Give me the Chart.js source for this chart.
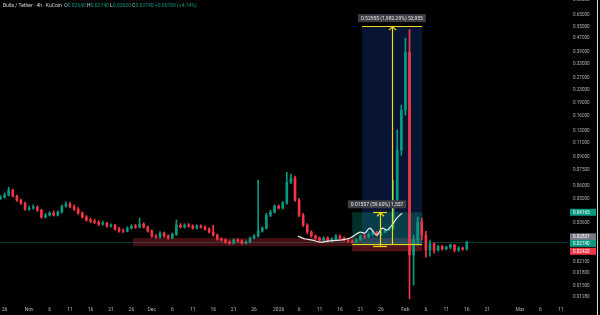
<!DOCTYPE html>
<html>
<head>
<meta charset="utf-8">
<script src="https://cdn.jsdelivr.net/npm/chart.js@4.4.1/dist/chart.umd.min.js"></script>
<style>
  html, body { margin: 0; padding: 0; background: #000; }
  canvas { display: block; }
</style>
</head>
<body>
<canvas id="chart" width="600" height="315"></canvas>
<script>
// Bulla / Tether 4h (KuCoin) - redrawn as daily candles, day 0 = 26 Oct
const firstDay = -1;

const opens = [
  0.0503, 0.0514, 0.0529, 0.0567, 0.0522, 0.0493, 0.0473, 0.0435, 0.0441, 0.0448,
  0.0429, 0.0390, 0.0400, 0.0412, 0.0400, 0.0418, 0.0454, 0.0467, 0.0448, 0.0435,
  0.0412, 0.0390, 0.0374, 0.0368, 0.0363, 0.0353, 0.0358, 0.0344, 0.0348, 0.0330,
  0.0321, 0.0320, 0.0334, 0.0344, 0.0339, 0.0353, 0.0339, 0.0321, 0.0299, 0.0295,
  0.0312, 0.0299, 0.0291, 0.0307, 0.0348, 0.0339, 0.0348, 0.0344, 0.0334, 0.0344,
  0.0339, 0.0330, 0.0316, 0.0303, 0.0287, 0.0283, 0.0275, 0.0271, 0.0283, 0.0279,
  0.0271, 0.0275, 0.0291, 0.0299, 0.0321, 0.0334, 0.0400, 0.0418, 0.0454, 0.0441,
  0.0473, 0.0634, 0.0670, 0.0493, 0.0400, 0.0348, 0.0316, 0.0299, 0.0291, 0.0283,
  0.0291, 0.0279, 0.0287, 0.0299, 0.0291, 0.0283, 0.0279, 0.0275, 0.0283, 0.0299,
  0.0295, 0.0307, 0.0316, 0.0303, 0.0316, 0.0325, 0.0334, 0.0493, 0.0989, 0.1725,
  0.3860, 0.0230, 0.0283, 0.0363, 0.0303, 0.0246, 0.0268, 0.0246, 0.0260, 0.0250,
  0.0256, 0.0264, 0.0246, 0.0253, 0.0250
];
const highs = [
  0.0525, 0.0545, 0.0591, 0.0575, 0.0530, 0.0500, 0.0480, 0.0455, 0.0462, 0.0455,
  0.0435, 0.0410, 0.0420, 0.0425, 0.0425, 0.0460, 0.0482, 0.0478, 0.0460, 0.0445,
  0.0420, 0.0398, 0.0385, 0.0378, 0.0370, 0.0368, 0.0362, 0.0355, 0.0352, 0.0338,
  0.0330, 0.0340, 0.0350, 0.0352, 0.0384, 0.0360, 0.0345, 0.0326, 0.0305, 0.0318,
  0.0316, 0.0305, 0.0312, 0.0374, 0.0356, 0.0355, 0.0356, 0.0350, 0.0350, 0.0350,
  0.0345, 0.0336, 0.0348, 0.0308, 0.0292, 0.0288, 0.0280, 0.0288, 0.0288, 0.0284,
  0.0280, 0.0295, 0.0305, 0.0652, 0.0340, 0.0410, 0.0428, 0.0462, 0.0462, 0.0485,
  0.0728, 0.0708, 0.0690, 0.0505, 0.0410, 0.0355, 0.0322, 0.0305, 0.0296, 0.0296,
  0.0296, 0.0292, 0.0305, 0.0304, 0.0296, 0.0287, 0.0284, 0.0288, 0.0305, 0.0306,
  0.0312, 0.0322, 0.0320, 0.0322, 0.0330, 0.0340, 0.0652, 0.1310, 0.1850, 0.4700,
  0.5300, 0.0303, 0.0390, 0.0384, 0.0320, 0.0283, 0.0272, 0.0262, 0.0262, 0.0260,
  0.0268, 0.0266, 0.0258, 0.0256, 0.0278
];
const lows = [
  0.0498, 0.0508, 0.0522, 0.0515, 0.0485, 0.0465, 0.0428, 0.0428, 0.0435, 0.0422,
  0.0383, 0.0385, 0.0395, 0.0395, 0.0395, 0.0412, 0.0448, 0.0442, 0.0428, 0.0405,
  0.0384, 0.0368, 0.0360, 0.0356, 0.0346, 0.0348, 0.0338, 0.0338, 0.0325, 0.0316,
  0.0314, 0.0317, 0.0330, 0.0333, 0.0335, 0.0334, 0.0316, 0.0294, 0.0290, 0.0290,
  0.0294, 0.0286, 0.0288, 0.0302, 0.0334, 0.0334, 0.0338, 0.0329, 0.0330, 0.0334,
  0.0325, 0.0312, 0.0298, 0.0282, 0.0279, 0.0270, 0.0266, 0.0268, 0.0274, 0.0267,
  0.0268, 0.0272, 0.0287, 0.0295, 0.0316, 0.0330, 0.0392, 0.0412, 0.0436, 0.0436,
  0.0466, 0.0620, 0.0485, 0.0392, 0.0342, 0.0310, 0.0294, 0.0286, 0.0278, 0.0280,
  0.0275, 0.0276, 0.0284, 0.0287, 0.0279, 0.0275, 0.0271, 0.0272, 0.0280, 0.0290,
  0.0292, 0.0303, 0.0298, 0.0300, 0.0312, 0.0322, 0.0330, 0.0480, 0.0920, 0.1610,
  0.0125, 0.0151, 0.0264, 0.0283, 0.0223, 0.0226, 0.0236, 0.0242, 0.0246, 0.0247,
  0.0251, 0.0240, 0.0242, 0.0245, 0.0246
];
const closes = [
  0.0514, 0.0529, 0.0567, 0.0522, 0.0493, 0.0473, 0.0435, 0.0441, 0.0448, 0.0429,
  0.0390, 0.0400, 0.0412, 0.0400, 0.0418, 0.0454, 0.0467, 0.0448, 0.0435, 0.0412,
  0.0390, 0.0374, 0.0368, 0.0363, 0.0353, 0.0358, 0.0344, 0.0348, 0.0330, 0.0321,
  0.0320, 0.0334, 0.0344, 0.0339, 0.0353, 0.0339, 0.0321, 0.0299, 0.0295, 0.0312,
  0.0299, 0.0291, 0.0307, 0.0348, 0.0339, 0.0348, 0.0344, 0.0334, 0.0344, 0.0339,
  0.0330, 0.0316, 0.0303, 0.0287, 0.0283, 0.0275, 0.0271, 0.0283, 0.0279, 0.0271,
  0.0275, 0.0291, 0.0299, 0.0321, 0.0334, 0.0400, 0.0418, 0.0454, 0.0441, 0.0473,
  0.0634, 0.0670, 0.0493, 0.0400, 0.0348, 0.0316, 0.0299, 0.0291, 0.0283, 0.0291,
  0.0279, 0.0287, 0.0299, 0.0291, 0.0283, 0.0279, 0.0275, 0.0283, 0.0299, 0.0295,
  0.0307, 0.0316, 0.0303, 0.0316, 0.0325, 0.0334, 0.0493, 0.0989, 0.1725, 0.3860,
  0.0230, 0.0283, 0.0363, 0.0303, 0.0246, 0.0268, 0.0246, 0.0260, 0.0250, 0.0256,
  0.0264, 0.0246, 0.0253, 0.0250, 0.0274
];

// white drawn path (days / prices)
const pathDays = [71.7, 73.5, 75.2, 77.1, 79.1, 82.0, 84.5, 86.9, 88.1, 89.3, 91.0, 92.3, 93.5, 94.7, 95.9, 97.2];
const pathPrices = [0.0299, 0.0287, 0.0283, 0.0275, 0.0279, 0.0283, 0.0291, 0.0316, 0.0312, 0.0334, 0.0303, 0.0334, 0.0325, 0.0348, 0.0384, 0.0412];

// drawings
const zoneDays = [31.4, 102.1];
const zonePrices = [0.0260, 0.0291];
const measureDays = [87.4, 102.1];
const measurePrices = [0.0267, 0.5563];
const measureArrowDay = 94.7;
const measureLabel = '0.52955 (1,982.29%) 52,955';
const positionDays = [85.0, 102.1];
const positionPrices = [0.0242, 0.02612, 0.04165]; // stop, entry, target
const rangeArrowDays = [90.1, 91.8, 93.5];
const rangeLabel = '0.01557 (59.60%) 1,557';

// axis ticks
const xTickDays = [0, 6, 11, 16, 21, 26, 31, 36, 41, 46, 51, 56, 61, 67, 72, 77, 82, 87, 92, 98, 103, 108, 113, 118, 126, 131, 136];
const xTickLabels = ['26', 'Nov', '6', '11', '16', '21', '26', 'Dec', '6', '11', '16', '21', '26', '2026', '6', '11', '16', '21', '26', 'Feb', '6', '11', '16', '21', 'Mar', '6', '11'];
const yTicks = [0.8, 0.65, 0.55, 0.47, 0.39, 0.33, 0.27, 0.23, 0.19, 0.16, 0.13, 0.11, 0.09, 0.075, 0.06, 0.05, 0.036, 0.021, 0.018, 0.015, 0.0128];

// price tags on the right scale
const tagValues = [0.04165, 0.02837, 0.0274, 0.0242];
const tagColors = ['#089981', '#787b86', '#089981', '#f23645'];
const tagNudge = [0, -3, 1, 0];

// header
const symbolTitle = 'Bulla / Tether · 4h · KuCoin';
const ohlcLabels = ['O', 'H', 'L', 'C'];
const lastOhlc = [0.0264, 0.0274, 0.0262, 0.0274];
const lastChange = '+0.00109 (+4.14%)';

const GREEN = '#089981';
const RED = '#f23645';
const TEXT = '#b2b5be';
const YELLOW = '#f0d817';
const FONT = 'Roboto, "Liberation Sans", sans-serif';

const days = opens.map((_, i) => firstDay + i);
const candleColors = closes.map((c, i) => (c >= opens[i] ? GREEN : RED));

const overlay = {
  id: 'overlay',
  beforeDraw(chart) {
    const { ctx } = chart;
    ctx.save();
    ctx.fillStyle = '#000';
    ctx.fillRect(0, 0, chart.width, chart.height);
    ctx.restore();
  },
  beforeDatasetsDraw(chart) {
    const { ctx, chartArea: a, scales: { x, y } } = chart;
    const box = (d0, d1, p0, p1, color) => {
      const x0 = x.getPixelForValue(d0), x1 = x.getPixelForValue(d1);
      const y0 = y.getPixelForValue(p1), y1 = y.getPixelForValue(p0);
      ctx.fillStyle = color;
      ctx.fillRect(x0, y0, x1 - x0, y1 - y0);
    };
    ctx.save();
    // last price line
    const lp = Math.round(y.getPixelForValue(closes[closes.length - 1])) + 0.5;
    ctx.strokeStyle = 'rgba(8,153,129,0.4)';
    ctx.lineWidth = 1;
    ctx.beginPath();
    ctx.moveTo(a.left, lp);
    ctx.lineTo(a.right, lp);
    ctx.stroke();

    box(zoneDays[0], zoneDays[1], zonePrices[0], zonePrices[1], 'rgba(242,54,69,0.28)');
    box(measureDays[0], measureDays[1], measurePrices[0], measurePrices[1], 'rgba(41,98,255,0.2)');
    box(positionDays[0], positionDays[1], positionPrices[1], positionPrices[2], 'rgba(8,153,129,0.32)');
    box(positionDays[0], positionDays[1], positionPrices[0], positionPrices[1], 'rgba(242,54,69,0.35)');
    ctx.restore();
  },
  afterDatasetsDraw(chart) {
    const { ctx, scales: { x, y } } = chart;
    const hline = (d0, d1, p) => {
      const py = Math.round(y.getPixelForValue(p)) + 0.5;
      ctx.beginPath();
      ctx.moveTo(x.getPixelForValue(d0), py);
      ctx.lineTo(x.getPixelForValue(d1), py);
      ctx.stroke();
    };
    const arrow = (d, p0, p1) => {
      const px = Math.round(x.getPixelForValue(d)) + 0.5;
      const top = y.getPixelForValue(p1);
      ctx.beginPath();
      ctx.moveTo(px, y.getPixelForValue(p0));
      ctx.lineTo(px, top);
      ctx.stroke();
      ctx.beginPath();
      ctx.moveTo(px - 3.5, top + 4);
      ctx.lineTo(px, top + 0.5);
      ctx.lineTo(px + 3.5, top + 4);
      ctx.stroke();
    };
    const label = (text, cx, cy) => {
      ctx.font = '5px ' + FONT;
      const w = ctx.measureText(text).width + 6;
      ctx.fillStyle = '#3b3d45';
      ctx.fillRect(cx - w / 2, cy - 4, w, 8);
      ctx.fillStyle = '#e8e8e8';
      ctx.textAlign = 'center';
      ctx.textBaseline = 'middle';
      ctx.fillText(text, cx, cy + 0.5);
    };
    ctx.save();
    ctx.strokeStyle = YELLOW;
    ctx.lineWidth = 1.2;
    // big measure
    hline(measureDays[0], measureDays[1], measurePrices[1]);
    hline(positionDays[0], positionDays[1], measurePrices[0]);
    arrow(measureArrowDay, measurePrices[0], measurePrices[1]);
    // small range
    hline(rangeArrowDays[0], rangeArrowDays[2], positionPrices[2]);
    hline(rangeArrowDays[0], rangeArrowDays[2], positionPrices[1]);
    arrow(rangeArrowDays[1], positionPrices[1], positionPrices[2]);

    label(measureLabel, x.getPixelForValue(measureArrowDay), y.getPixelForValue(measurePrices[1]) - 8);
    label(rangeLabel, x.getPixelForValue(rangeArrowDays[1]) - 3, y.getPixelForValue(positionPrices[2]) - 8);
    ctx.restore();
  },
  afterDraw(chart) {
    const { ctx, chartArea: a, scales: { y } } = chart;
    ctx.save();
    // price tags
    ctx.font = '4.6px ' + FONT;
    ctx.textAlign = 'left';
    ctx.textBaseline = 'middle';
    tagValues.forEach((v, i) => {
      const py = y.getPixelForValue(v) + tagNudge[i];
      ctx.fillStyle = tagColors[i];
      ctx.fillRect(a.right + 2, py - 3.5, 26, 7);
      ctx.fillStyle = '#fff';
      ctx.fillText(v.toFixed(5), a.right + 5, py + 0.3);
    });
    // right border
    ctx.fillStyle = '#d8d8d8';
    ctx.fillRect(597, 0, 1, chart.height);

    // header
    ctx.font = '5px ' + FONT;
    let hx = 3;
    const put = (t, c) => {
      ctx.fillStyle = c;
      ctx.fillText(t, hx, 6);
      hx += ctx.measureText(t).width;
    };
    put(symbolTitle + '  ', '#d1d4dc');
    ohlcLabels.forEach((l, i) => {
      put(l, '#d1d4dc');
      put(lastOhlc[i].toFixed(5) + ' ', GREEN);
    });
    put(lastChange, GREEN);
    ctx.restore();
  }
};

new Chart(document.getElementById('chart'), {
  type: 'bar',
  data: {
    datasets: [
      {
        type: 'line',
        data: pathDays.map((d, i) => ({ x: d, y: pathPrices[i] })),
        borderColor: '#e6e6e6',
        borderWidth: 1.2,
        pointRadius: 0,
        tension: 0.35,
        order: 0
      },
      {
        data: days.map((d, i) => ({ x: d, y: [opens[i], closes[i]] })),
        backgroundColor: candleColors,
        barThickness: 2,
        grouped: false,
        order: 1
      },
      {
        data: days.map((d, i) => ({ x: d, y: [lows[i], highs[i]] })),
        backgroundColor: candleColors,
        barThickness: 1,
        grouped: false,
        order: 2
      }
    ]
  },
  options: {
    responsive: false,
    animation: false,
    devicePixelRatio: 1,
    layout: { padding: 0 },
    plugins: { legend: { display: false }, tooltip: { enabled: false } },
    scales: {
      x: {
        type: 'linear',
        offset: false,
        min: -1.125,
        max: 137.75,
        grid: { display: false, drawTicks: false, offset: false },
        border: { display: false },
        afterBuildTicks: s => { s.ticks = xTickDays.map(v => ({ value: v })); },
        afterFit: s => { s.height = 12; s.paddingLeft = 0; s.paddingRight = 0; },
        ticks: {
          callback: (v, i) => xTickLabels[i],
          color: TEXT,
          font: { size: 5, family: FONT },
          autoSkip: false,
          maxRotation: 0,
          padding: 4
        }
      },
      y: {
        type: 'logarithmic',
        position: 'right',
        min: 0.01178,
        max: 0.8,
        grid: { display: false, drawTicks: false },
        border: { display: false },
        afterBuildTicks: s => { s.ticks = yTicks.map(v => ({ value: v })); },
        afterFit: s => { s.width = 32; s.paddingTop = 0; s.paddingBottom = 0; },
        ticks: {
          callback: v => Number(v).toFixed(5),
          color: TEXT,
          font: { size: 4.6, family: FONT },
          autoSkip: false,
          padding: 5
        }
      }
    }
  },
  plugins: [overlay]
});
</script>
</body>
</html>
